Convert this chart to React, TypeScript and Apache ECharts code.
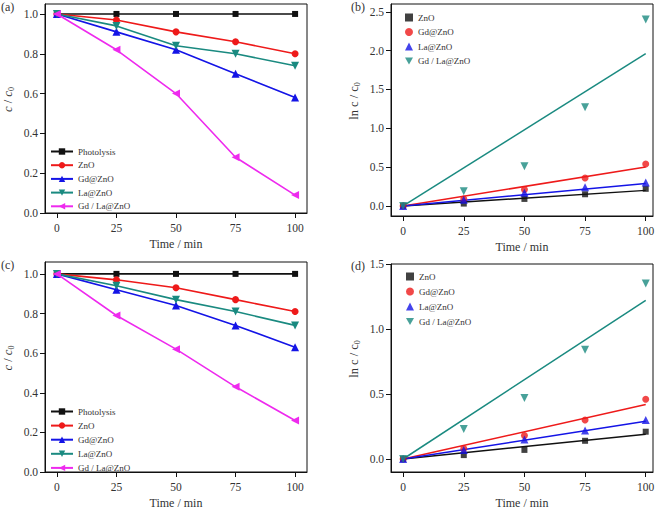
import React, { useEffect, useRef } from 'react';
import * as echarts from 'echarts';

// ---------- data ----------
const times = [0, 25, 50, 75, 100];
const fitTimes = [0, 100];

const namesAC = ['Photolysis', 'ZnO', 'Gd@ZnO', 'La@ZnO', 'Gd / La@ZnO'];
const aPhotolysis = [1, 1, 1, 1, 1];
const aZnO = [1, 0.97, 0.91, 0.86, 0.8];
const aGd = [1, 0.91, 0.82, 0.7, 0.58];
const aLa = [1, 0.94, 0.84, 0.8, 0.74];
const aGdLa = [1, 0.82, 0.6, 0.28, 0.09];

const cPhotolysis = [1, 1, 1, 1, 1];
const cZnO = [1, 0.97, 0.93, 0.87, 0.81];
const cGd = [1, 0.92, 0.84, 0.74, 0.63];
const cLa = [1, 0.94, 0.87, 0.81, 0.74];
const cGdLa = [1, 0.79, 0.62, 0.43, 0.26];

const namesBD = ['ZnO', 'Gd@ZnO', 'La@ZnO', 'Gd / La@ZnO'];
const bZnO = [0, 0.03, 0.09, 0.15, 0.22];
const bGd = [0, 0.09, 0.21, 0.36, 0.54];
const bLa = [0, 0.08, 0.17, 0.24, 0.3];
const bGdLa = [0, 0.19, 0.51, 1.27, 2.4];
const bFitAt100 = [0.2, 0.5, 0.29, 1.96];

const dZnO = [0, 0.03, 0.07, 0.14, 0.21];
const dGd = [0, 0.08, 0.18, 0.3, 0.46];
const dLa = [0, 0.07, 0.15, 0.22, 0.3];
const dGdLa = [0, 0.23, 0.47, 0.84, 1.35];
const dFitAt100 = [0.19, 0.42, 0.29, 1.22];

const yTicksAC = [0, 0.2, 0.4, 0.6, 0.8, 1.0];
const yTicksB = [0, 0.5, 1.0, 1.5, 2.0, 2.5];
const yTicksD = [0, 0.5, 1.0, 1.5];

// ---------- styles ----------
const FONT = 'Liberation Serif';
const TXT = '#333';
const colorsAC = ['#111111', '#ee1a1a', '#1414e6', '#1a8a80', '#ee2aee'];
const colorsBD = ['#111111', '#ee1a1a', '#1414e6', '#1a8a80'];
const DOWN = 'path://M0,0 L10,0 L5,9 Z';
const LEFT = 'path://M0,5 L9,0 L9,10 Z';
const symbolsAC = ['rect', 'circle', 'triangle', DOWN, LEFT];
const sizesAC = [6, 7, 8, 8, 8];
const symbolsBD = ['rect', 'circle', 'triangle', DOWN];
const sizesBD = [6, 7, 8, 8];

const txt = (size: number, extra: any = {}) => ({
  fontSize: size,
  fontFamily: FONT,
  fontWeight: 'normal',
  fontStyle: 'normal',
  color: TXT,
  ...extra,
});

const richName = {
  i: txt(12.5, { fontStyle: 'italic' }),
  n: txt(12.5),
  s: txt(8, { padding: [7, 0, 0, 0] }),
};

function xAxisFor(gridIndex: number, max: number) {
  return {
    type: 'value',
    gridIndex,
    min: -5,
    max,
    name: 'Time / min',
    nameLocation: 'middle',
    nameGap: 25,
    nameTextStyle: txt(12),
    axisLine: { show: true, onZero: false, lineStyle: { color: '#111', width: 1 } },
    axisTick: { show: true, inside: false, length: 5, customValues: times, lineStyle: { color: '#111' } },
    axisLabel: { customValues: times, margin: 9, ...txt(11.5) },
    splitLine: { show: false },
  };
}

function yAxisFor(gridIndex: number, min: number, max: number, ticks: number[], name: string) {
  return {
    type: 'value',
    gridIndex,
    min,
    max,
    name,
    nameLocation: 'middle',
    nameGap: 30,
    nameRotate: 90,
    nameTextStyle: { ...txt(12.5), rich: richName, padding: [0, 0, 0, 18] },
    axisLine: { show: true, onZero: false, lineStyle: { color: '#111', width: 1 } },
    axisTick: { show: true, inside: false, length: 5, customValues: ticks, lineStyle: { color: '#111' } },
    axisLabel: {
      customValues: ticks,
      margin: 7,
      ...txt(11.5),
      formatter: (v: number) => v.toFixed(1),
    },
    splitLine: { show: false },
  };
}

function lineSeries(prefix: string, idx: number, data: number[], gridIdx: number) {
  return {
    type: 'line',
    name: prefix + ':' + namesAC[idx],
    xAxisIndex: gridIdx,
    yAxisIndex: gridIdx,
    data: times.map((t, i) => [t, data[i]]),
    symbol: symbolsAC[idx],
    symbolSize: sizesAC[idx],
    showAllSymbol: true,
    itemStyle: { color: colorsAC[idx] },
    lineStyle: { color: colorsAC[idx], width: 1.6 },
  };
}

function scatterSeries(prefix: string, idx: number, data: number[], gridIdx: number) {
  return {
    type: 'scatter',
    name: prefix + ':' + namesBD[idx],
    xAxisIndex: gridIdx,
    yAxisIndex: gridIdx,
    data: times.map((t, i) => [t, data[i]]),
    symbol: symbolsBD[idx],
    symbolSize: sizesBD[idx],
    itemStyle: { color: colorsBD[idx] },
    z: 3,
  };
}

function fitSeries(prefix: string, idx: number, end: number, gridIdx: number) {
  return {
    type: 'line',
    name: prefix + ':fit' + idx,
    xAxisIndex: gridIdx,
    yAxisIndex: gridIdx,
    data: [[fitTimes[0], 0], [fitTimes[1], end]],
    symbol: 'none',
    lineStyle: { color: colorsBD[idx], width: 1.5 },
    z: 2,
  };
}

function legendFor(prefix: string, names: string[], left: number, top: number, gap: number, w: number) {
  return {
    show: true,
    orient: 'vertical',
    left,
    top,
    itemWidth: w,
    itemHeight: 8,
    itemGap: gap,
    selectedMode: false,
    data: names.map((n) => prefix + ':' + n),
    formatter: (n: string) => n.slice(n.indexOf(':') + 1),
    textStyle: txt(9, { lineHeight: 9 }),
  };
}

export default function App() {
  const ref = useRef<HTMLDivElement>(null);
  useEffect(() => {
    if (!ref.current) return;
    const chart = echarts.init(ref.current, undefined, { renderer: 'svg' });
    const aSets = [aPhotolysis, aZnO, aGd, aLa, aGdLa];
    const cSets = [cPhotolysis, cZnO, cGd, cLa, cGdLa];
    const bSets = [bZnO, bGd, bLa, bGdLa];
    const dSets = [dZnO, dGd, dLa, dGdLa];
    const series: any[] = [];
    aSets.forEach((d, i) => series.push(lineSeries('a', i, d, 0)));
    bFitAt100.forEach((e, i) => series.push(fitSeries('b', i, e, 1)));
    bSets.forEach((d, i) => series.push(scatterSeries('b', i, d, 1)));
    cSets.forEach((d, i) => series.push(lineSeries('c', i, d, 2)));
    dFitAt100.forEach((e, i) => series.push(fitSeries('d', i, e, 3)));
    dSets.forEach((d, i) => series.push(scatterSeries('d', i, d, 3)));

    const gridStyle = { show: true, borderColor: '#111', borderWidth: 1, backgroundColor: '#fff' };
    const option: any = {
      animation: false,
      backgroundColor: '#fff',
      textStyle: { fontFamily: FONT, fontWeight: 'normal' },
      grid: [
        { left: 40, top: 4, width: 267, height: 209, ...gridStyle },
        { left: 391, top: 4, width: 262, height: 212, ...gridStyle },
        { left: 40, top: 262, width: 267, height: 211, ...gridStyle },
        { left: 391, top: 264, width: 262, height: 209, ...gridStyle },
      ],
      xAxis: [xAxisFor(0, 105), xAxisFor(1, 103), xAxisFor(2, 105), xAxisFor(3, 103)],
      yAxis: [
        yAxisFor(0, 0, 1.05, yTicksAC, '{i|c} / {i|c}{s|0}'),
        yAxisFor(1, -0.13, 2.6, yTicksB, '{n|ln c} / {n|c}{s|0}'),
        yAxisFor(2, 0, 1.06, yTicksAC, '{i|c} / {i|c}{s|0}'),
        yAxisFor(3, -0.1, 1.5, yTicksD, '{n|ln c} / {n|c}{s|0}'),
      ],
      legend: [
        legendFor('a', namesAC, 45, 142, 4.7, 22),
        legendFor('b', namesBD, 400, 8, 5.5, 8),
        legendFor('c', namesAC, 45, 402, 5.1, 22),
        legendFor('d', namesBD, 401, 267, 6, 8),
      ],
      graphic: [
        { type: 'text', left: 1, top: 1, style: { text: '(a)', fontSize: 12, fontFamily: FONT, fill: TXT } },
        { type: 'text', left: 351, top: 1, style: { text: '(b)', fontSize: 12, fontFamily: FONT, fill: TXT } },
        { type: 'text', left: 1, top: 259, style: { text: '(c)', fontSize: 12, fontFamily: FONT, fill: TXT } },
        { type: 'text', left: 351, top: 260, style: { text: '(d)', fontSize: 12, fontFamily: FONT, fill: TXT } },
      ],
      series,
    };
    chart.setOption(option);
    return () => chart.dispose();
  }, []);
  return (
    <div
      ref={ref}
      style={{ position: 'absolute', left: 0, top: 0, width: 660, height: 510, background: '#fff' }}
    />
  );
}
